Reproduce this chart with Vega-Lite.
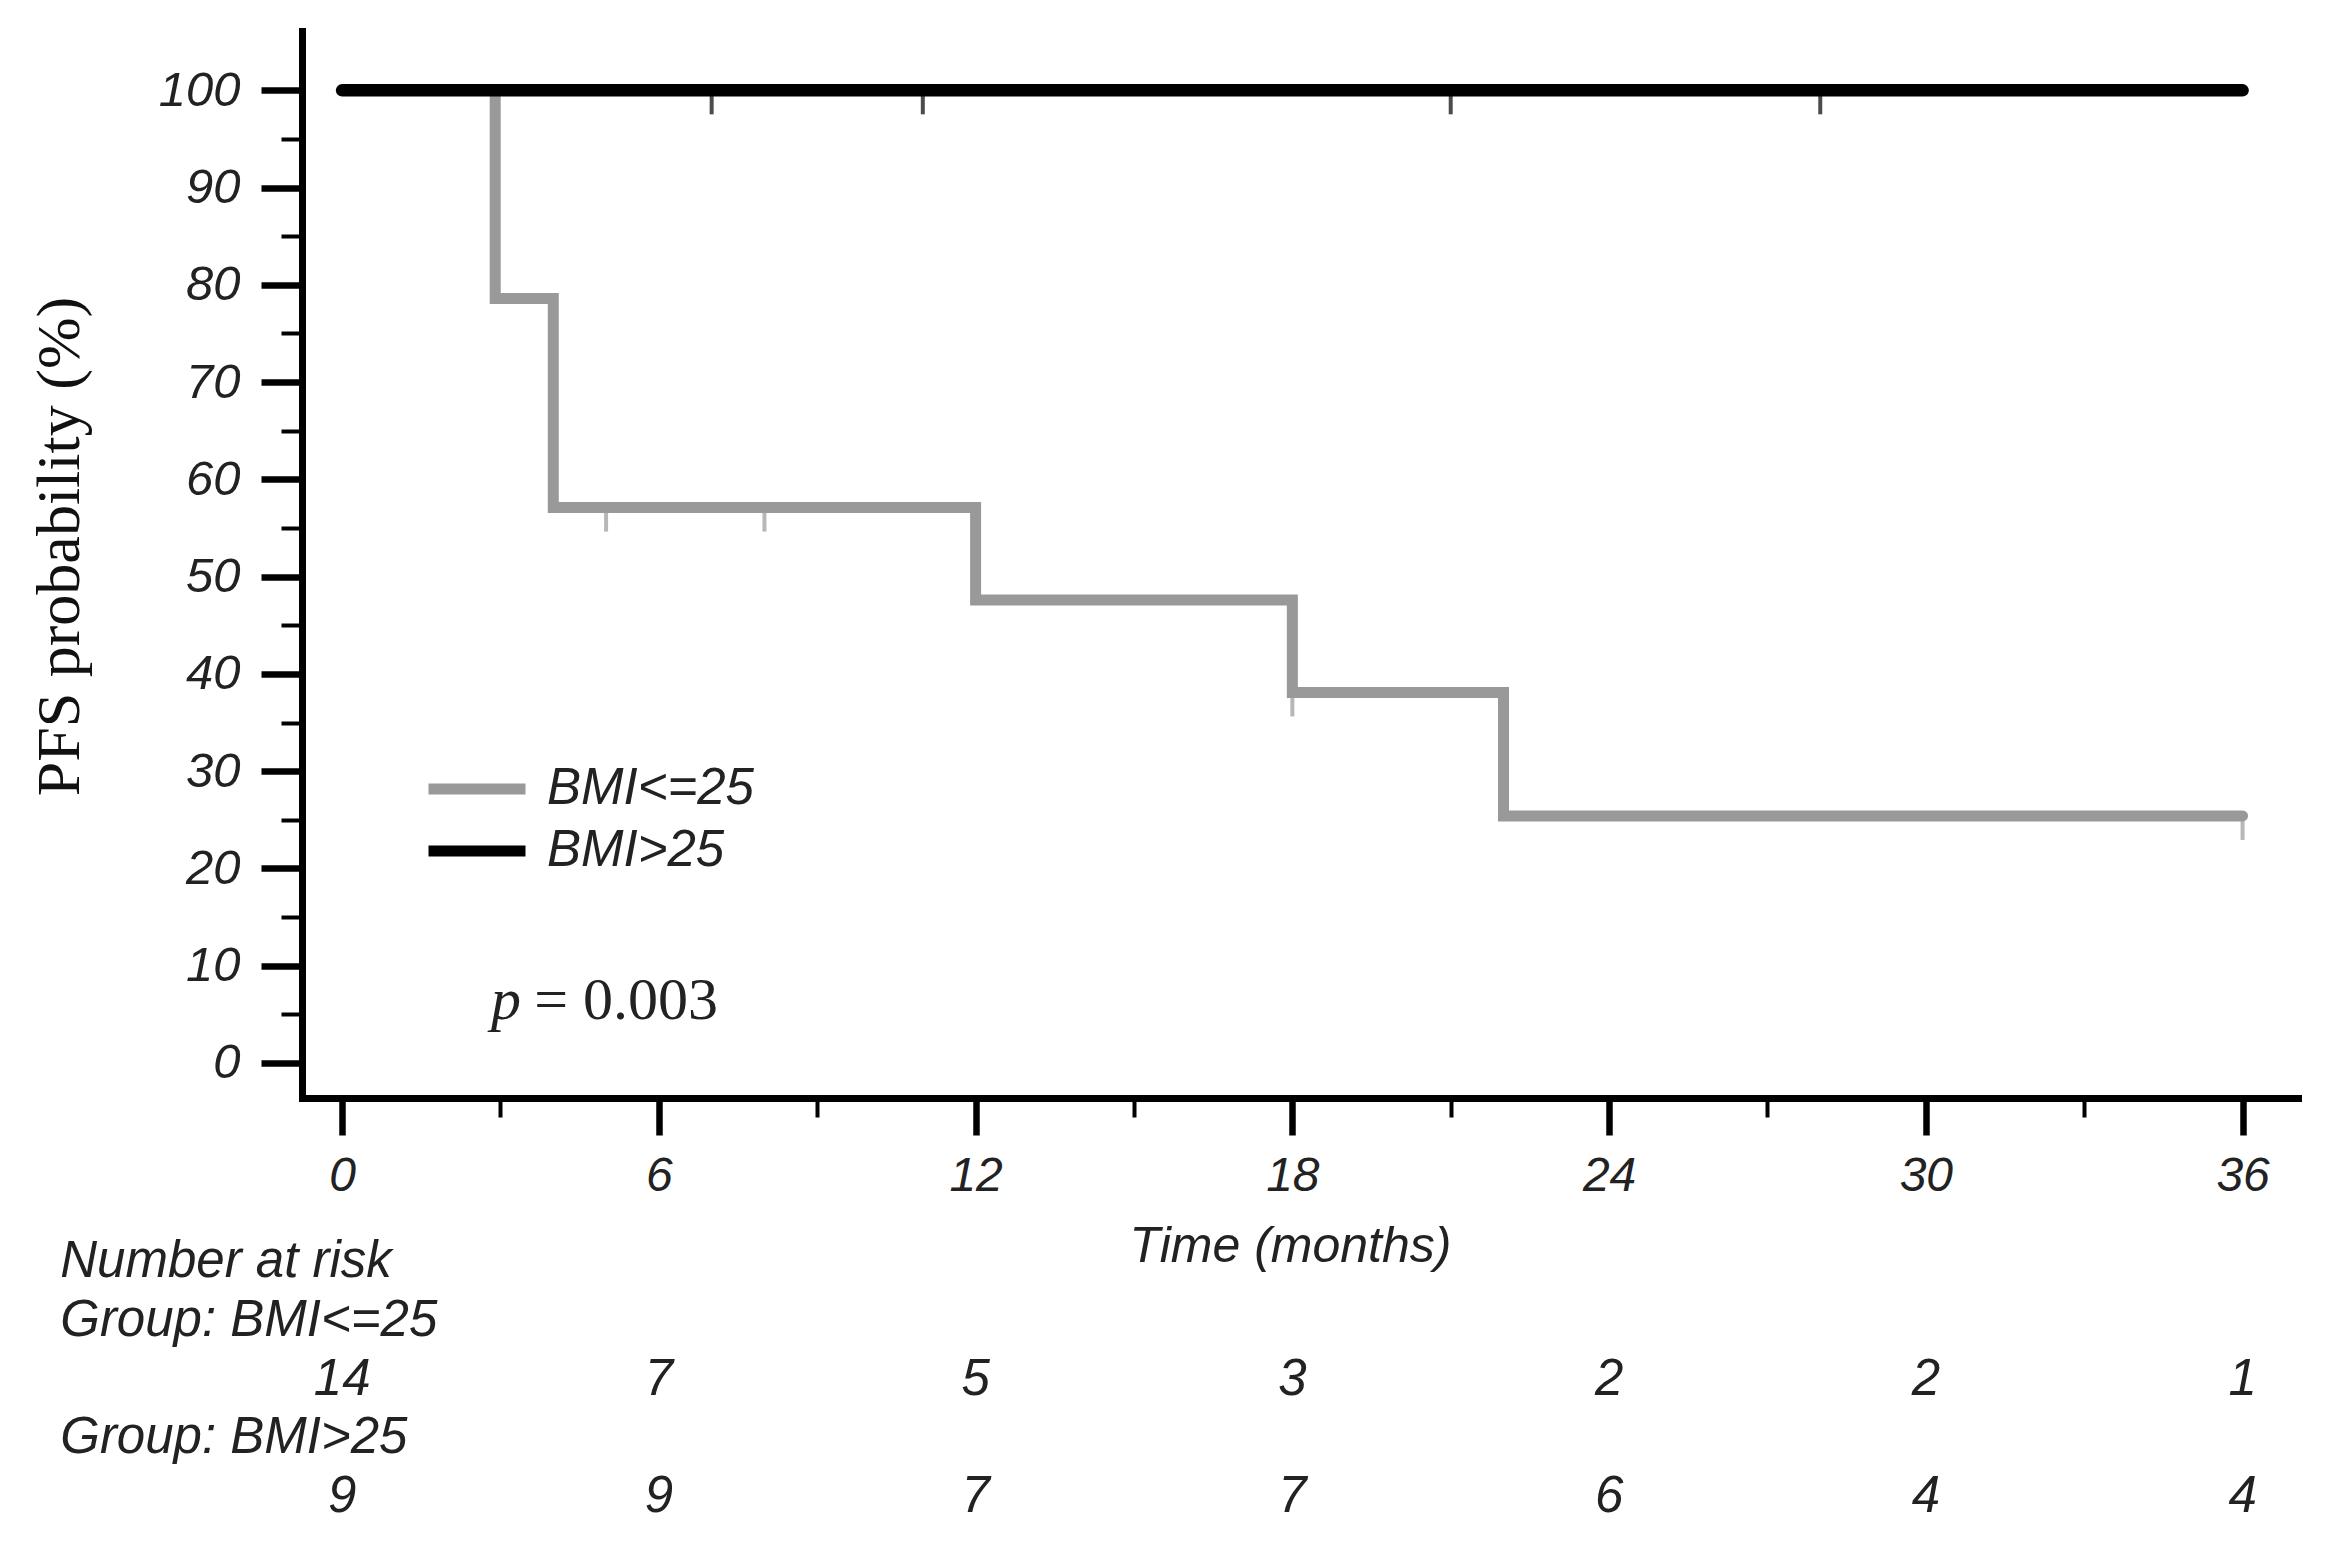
{
  "$schema": "https://vega.github.io/schema/vega-lite/v6.json",
  "width": 1996,
  "height": 1067,
  "autosize": {"type": "none"},
  "padding": {"left": 302, "top": 31, "right": 49, "bottom": 462},
  "background": "white",
  "config": {"view": {"stroke": null}, "font": "Liberation Sans"},
  "datasets": {
    "km": [
      {"group": "BMI<=25", "time": 0, "surv": 100},
      {"group": "BMI<=25", "time": 2.9, "surv": 78.6},
      {"group": "BMI<=25", "time": 4, "surv": 57.1},
      {"group": "BMI<=25", "time": 12, "surv": 47.6},
      {"group": "BMI<=25", "time": 18, "surv": 38.1},
      {"group": "BMI<=25", "time": 22, "surv": 25.4},
      {"group": "BMI<=25", "time": 36, "surv": 25.4},
      {"group": "BMI>25", "time": 0, "surv": 100},
      {"group": "BMI>25", "time": 36, "surv": 100}
    ],
    "censor": [
      {"group": "BMI<=25", "time": 5, "surv": 57.1},
      {"group": "BMI<=25", "time": 8, "surv": 57.1},
      {"group": "BMI<=25", "time": 18, "surv": 38.1},
      {"group": "BMI<=25", "time": 36, "surv": 25.4},
      {"group": "BMI>25", "time": 7, "surv": 100},
      {"group": "BMI>25", "time": 11, "surv": 100},
      {"group": "BMI>25", "time": 21, "surv": 100},
      {"group": "BMI>25", "time": 28, "surv": 100}
    ],
    "risk": [
      {"group": "BMI<=25", "time": 0, "n": 14},
      {"group": "BMI<=25", "time": 6, "n": 7},
      {"group": "BMI<=25", "time": 12, "n": 5},
      {"group": "BMI<=25", "time": 18, "n": 3},
      {"group": "BMI<=25", "time": 24, "n": 2},
      {"group": "BMI<=25", "time": 30, "n": 2},
      {"group": "BMI<=25", "time": 36, "n": 1},
      {"group": "BMI>25", "time": 0, "n": 9},
      {"group": "BMI>25", "time": 6, "n": 9},
      {"group": "BMI>25", "time": 12, "n": 7},
      {"group": "BMI>25", "time": 18, "n": 7},
      {"group": "BMI>25", "time": 24, "n": 6},
      {"group": "BMI>25", "time": 30, "n": 4},
      {"group": "BMI>25", "time": 36, "n": 4}
    ],
    "tablelabels": [
      {"row": "Number at risk"},
      {"row": "Group: BMI<=25"},
      {"row": "Group: BMI>25"}
    ]
  },
  "layer": [
    {
      "layer": [
        {
          "data": {"name": "km"},
          "transform": [{"filter": "datum.group === 'BMI<=25'"}],
          "mark": {"type": "line", "interpolate": "step-after", "strokeWidth": 11, "strokeCap": "round", "strokeJoin": "miter"},
          "encoding": {
            "x": {
              "field": "time", "type": "quantitative",
              "scale": {"domain": [-0.76, 37.05], "nice": false, "zero": false},
              "axis": {
                "values": [0, 3, 6, 9, 12, 15, 18, 21, 24, 27, 30, 33, 36],
                "labelExpr": "datum.value % 6 === 0 ? datum.label : ''",
                "title": "Time (months)",
                "titleFont": "Liberation Sans", "titleFontStyle": "italic", "titleFontWeight": "normal",
                "titleFontSize": 50, "titleColor": "#222",
                "titleX": 988, "titleY": 148, "titleAlign": "center", "titleBaseline": "middle",
                "domainColor": "#000", "domainWidth": 7, "domainCap": "square",
                "tickColor": "#000",
                "tickSize": {"condition": {"test": "datum.value % 6 === 0", "value": 37}, "value": 19},
                "tickWidth": {"condition": {"test": "datum.value % 6 === 0", "value": 6.5}, "value": 4},
                "labelFont": "Liberation Sans", "labelFontSize": 48, "labelFontStyle": "italic", "labelColor": "#222",
                "labelPadding": 17, "grid": false, "labelFlush": false, "labelOverlap": false
              }
            },
            "y": {
              "field": "surv", "type": "quantitative",
              "scale": {"domain": [-3.6, 106.1], "nice": false, "zero": false},
              "axis": {
                "values": [0, 5, 10, 15, 20, 25, 30, 35, 40, 45, 50, 55, 60, 65, 70, 75, 80, 85, 90, 95, 100],
                "labelExpr": "datum.value % 10 === 0 ? datum.label : ''",
                "title": "PFS probability (%)",
                "titleFont": "Liberation Serif", "titleFontSize": 62, "titleFontWeight": "normal", "titleColor": "#111",
                "titleAngle": -90, "titleX": -243, "titleY": 515, "titleAlign": "center", "titleBaseline": "middle",
                "domainColor": "#000", "domainWidth": 7, "domainCap": "square",
                "tickColor": "#000",
                "tickSize": {"condition": {"test": "datum.value % 10 === 0", "value": 41}, "value": 21},
                "tickWidth": {"condition": {"test": "datum.value % 10 === 0", "value": 6.5}, "value": 4},
                "labelFont": "Liberation Sans", "labelFontSize": 49, "labelFontStyle": "italic", "labelColor": "#222",
                "labelPadding": 21, "grid": false, "labelOverlap": false
              }
            },
            "color": {
              "field": "group", "type": "nominal",
              "scale": {"domain": ["BMI<=25", "BMI>25"], "range": ["#999999", "#000000"]},
              "legend": {
                "orient": "none", "legendX": 121, "legendY": 733, "title": null,
                "symbolType": "stroke", "symbolSize": 9409, "symbolStrokeWidth": 11,
                "clipHeight": 50, "rowPadding": 11, "labelOffset": 16, "labelLimit": 0,
                "labelFont": "Liberation Sans", "labelFontSize": 51, "labelFontStyle": "italic", "labelColor": "#222",
                "padding": 0
              }
            }
          }
        },
        {
          "data": {"name": "km"},
          "transform": [{"filter": "datum.group === 'BMI>25'"}],
          "mark": {"type": "line", "interpolate": "step-after", "strokeWidth": 12.5, "strokeCap": "round", "strokeJoin": "miter"},
          "encoding": {
            "x": {"field": "time", "type": "quantitative"},
            "y": {"field": "surv", "type": "quantitative"},
            "color": {"field": "group", "type": "nominal"}
          }
        },
        {
          "data": {"name": "censor"},
          "mark": {"type": "tick", "orient": "vertical", "size": 24, "thickness": 4, "yOffset": 12},
          "encoding": {
            "x": {"field": "time", "type": "quantitative"},
            "y": {"field": "surv", "type": "quantitative"},
            "color": {"condition": {"test": "datum.group === 'BMI>25'", "value": "#000000"}, "value": "#999999"}
          }
        },
        {
          "data": {"values": [{}]},
          "mark": {"type": "text", "text": "p", "font": "Liberation Serif", "fontStyle": "italic", "fontSize": 60, "align": "left", "baseline": "alphabetic", "color": "#222"},
          "encoding": {
            "x": {"datum": 2.82},
            "y": {"datum": 4.5}
          }
        },
        {
          "data": {"values": [{}]},
          "mark": {"type": "text", "text": "= 0.003", "font": "Liberation Serif", "fontSize": 60, "align": "left", "baseline": "alphabetic", "color": "#222"},
          "encoding": {
            "x": {"datum": 3.64},
            "y": {"datum": 4.5}
          }
        }
      ]
    },
    {
      "data": {"name": "tablelabels"},
      "mark": {"type": "text", "align": "left", "baseline": "middle", "font": "Liberation Sans", "fontSize": 51, "fontStyle": "italic", "color": "#222"},
      "encoding": {
        "x": {"datum": -5.34},
        "y": {
          "field": "row", "type": "ordinal",
          "scale": {"type": "point", "domain": ["Number at risk", "Group: BMI<=25", "BMI<=25", "Group: BMI>25", "BMI>25"], "range": [1231, 1466], "padding": 0},
          "axis": null
        },
        "text": {"field": "row"}
      }
    },
    {
      "data": {"name": "risk"},
      "mark": {"type": "text", "align": "center", "baseline": "middle", "font": "Liberation Sans", "fontSize": 51, "fontStyle": "italic", "color": "#222"},
      "encoding": {
        "x": {"field": "time", "type": "quantitative"},
        "y": {
          "field": "group", "type": "ordinal",
          "scale": {"type": "point", "domain": ["Number at risk", "Group: BMI<=25", "BMI<=25", "Group: BMI>25", "BMI>25"], "range": [1231, 1466], "padding": 0},
          "axis": null
        },
        "text": {"field": "n"}
      }
    }
  ],
  "resolve": {"scale": {"y": "independent"}}
}
